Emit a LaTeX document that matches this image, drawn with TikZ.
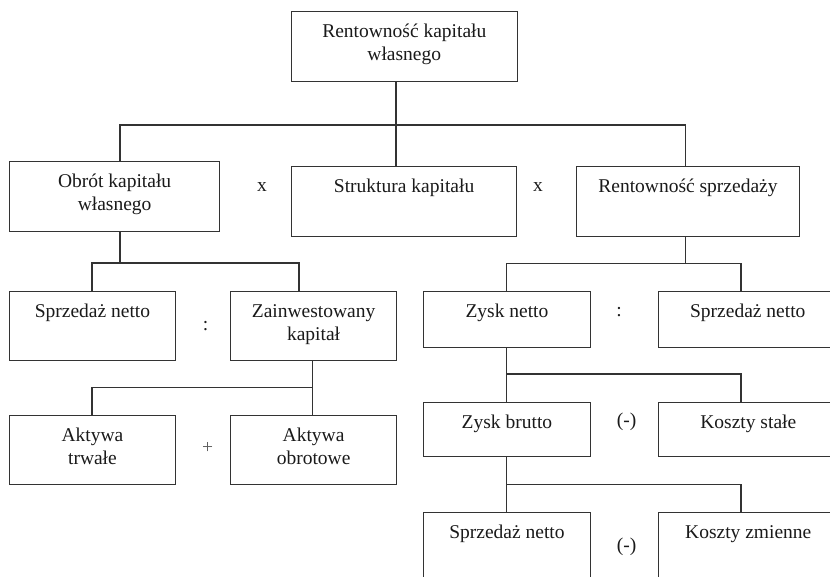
\documentclass[tikz,border=0pt]{standalone}
\usepackage{fontspec}
\setmainfont{Liberation Serif}
\definecolor{linec}{HTML}{333333}
\definecolor{textc}{HTML}{1A1A1A}
\newcommand{\bxt}[3]{\parbox[c][#2][t]{#1}{\centering\rule{0pt}{26pt}#3}}
\tikzset{
  box/.style={draw=linec, line width=1.2pt, inner sep=0pt, anchor=north west, text=textc,
              font=\fontsize{19.5}{23}\selectfont},
  conn/.style={draw=linec, line width=1.2pt},
  op/.style={text=textc, inner sep=0pt, font=\fontsize{19.5}{23}\selectfont}
}
\begin{document}
\begin{tikzpicture}[x=1pt, y=-1pt]
\useasboundingbox (0,0) rectangle (830,577);
\fill[white] (0,0) rectangle (830,577);
\clip (0,0) rectangle (830,577);

% boxes
\node[box] (top) at (290.7,11) {\bxt{226pt}{70pt}{Rentowność kapitału\\własnego}};
\node[box] (obrot) at (9,161) {\bxt{210pt}{70pt}{Obrót kapitału\\własnego}};
\node[box] (strukt) at (291,166) {\bxt{225pt}{70pt}{Struktura kapitału}};
\node[box] (rentsp) at (575.7,166) {\bxt{223.3pt}{70pt}{Rentowność sprzedaży}};
\node[box] (sn1) at (9,291) {\bxt{165.7pt}{69pt}{Sprzedaż netto}};
\node[box] (zain) at (230,291) {\bxt{166pt}{69pt}{Zainwestowany\\kapitał}};
\node[box] (akt1) at (9,415) {\bxt{165.7pt}{69pt}{Aktywa\\trwałe}};
\node[box] (akt2) at (230,415) {\bxt{166pt}{69pt}{Aktywa\\obrotowe}};
\node[box] (zn) at (422.7,291) {\bxt{167.3pt}{55.7pt}{Zysk netto}};
\node[box] (sn2) at (657.7,291) {\bxt{200pt}{55.7pt}{\hspace*{-21pt}Sprzedaż netto}};
\node[box] (zb) at (422.7,401.7) {\bxt{167.3pt}{54.3pt}{Zysk brutto}};
\node[box] (ks) at (657.7,401.7) {\bxt{200pt}{54.3pt}{\hspace*{-20pt}Koszty stałe}};
\node[box] (sn3) at (422.7,511.7) {\bxt{167.3pt}{100pt}{Sprzedaż netto}};
\node[box] (kz) at (657.7,511.7) {\bxt{200pt}{100pt}{\hspace*{-20pt}Koszty zmienne}};

% operators
\node[op] (o1) at (262,187) {x};
\node[op] (o2) at (538,187) {x};
\node[op] (o3) at (205.7,326) {:};
\node[op, text=textc!70] (o4) at (207.7,448) {+};
\node[op] (o5) at (619,311.7) {:};
\node[op] (o6) at (626.7,422) {(-)};
\node[op] (o7) at (626.7,546.7) {(-)};

% bus coordinates
\coordinate (a0) at (396,125);
\coordinate (a1) at (120,125);
\coordinate (a2) at (685.5,125);
\coordinate (c0) at (120,263);
\coordinate (c1) at (92,263);
\coordinate (c2) at (299,263);
\coordinate (d1) at (92,387.3);
\coordinate (d2) at (312.7,387.3);
\coordinate (e0) at (685.5,263.3);
\coordinate (e1) at (506.3,263.3);
\coordinate (e2) at (741,263.3);
\coordinate (f1) at (506.3,374);
\coordinate (f2) at (741,374);
\coordinate (g1) at (506.3,484.3);
\coordinate (g2) at (741,484.3);

% connectors
\draw[conn] (top.south -| a0) -- (strukt.north -| a0);
\draw[conn] (obrot.north -| a1) -- (a1) -- (a2) -- (rentsp.north -| a2);
\draw[conn] (obrot.south -| c0) -- (c0);
\draw[conn] (sn1.north -| c1) -- (c1) -- (c2) -- (zain.north -| c2);
\draw[conn] (zain.south -| d2) -- (akt2.north -| d2);
\draw[conn] (d2) -- (d1) -- (akt1.north -| d1);
\draw[conn] (rentsp.south -| e0) -- (e0);
\draw[conn] (zn.north -| e1) -- (e1) -- (e2) -- (sn2.north -| e2);
\draw[conn] (zn.south -| f1) -- (zb.north -| f1);
\draw[conn] (f1) -- (f2) -- (ks.north -| f2);
\draw[conn] (zb.south -| g1) -- (sn3.north -| g1);
\draw[conn] (g1) -- (g2) -- (kz.north -| g2);
\end{tikzpicture}
\end{document}
